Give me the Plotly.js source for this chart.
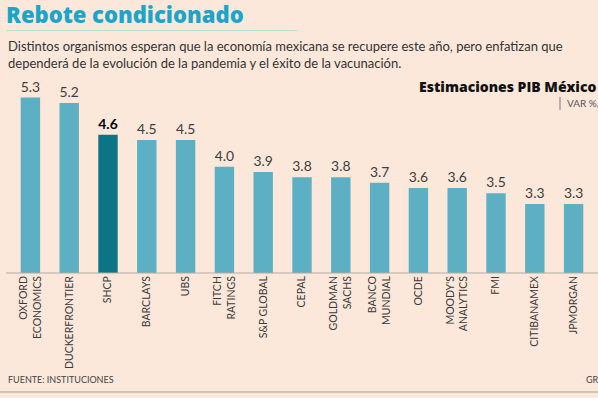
<!DOCTYPE html>
<html>
<head>
<meta charset="utf-8">
<script src="https://cdn.plot.ly/plotly-3.0.1.min.js"></script>
<style>html,body{margin:0;padding:0;background:#fbe8da;overflow:hidden}</style>
</head>
<body>
<div id="chart" style="width:598px;height:398px"></div>
<script>
const categories = ["OXFORD<br>ECONOMICS","DUCKERFRONTIER","SHCP","BARCLAYS","UBS","FITCH<br>RATINGS","S&P GLOBAL","CEPAL","GOLDMAN<br>SACHS","BANCO<br>MUNDIAL","OCDE","MOODY'S<br>ANALYTICS","FMI","CITIBANAMEX","JPMORGAN"];
const values = [5.3, 5.2, 4.6, 4.5, 4.5, 4.0, 3.9, 3.8, 3.8, 3.7, 3.6, 3.6, 3.5, 3.3, 3.3];
const highlight = "SHCP";

const W = 598, H = 398;
const M = {l: 11, r: 5, t: 71, b: 125};
const PW = W - M.l - M.r, PH = H - M.t - M.b;
const px = x => (x - M.l) / PW;
const py = y => (H - M.b - y) / PH;

const isHi = categories.map(c => c === highlight);
const trace = {
  type: 'bar',
  x: categories,
  y: values,
  base: 0,
  marker: {color: isHi.map(h => h ? '#0c7485' : '#5db0c3')},
  width: 0.5,
  text: values.map((v, i) => isHi[i] ? '<b>' + v.toFixed(1) + '</b>' : v.toFixed(1)),
  textposition: 'outside',
  cliponaxis: false,
  textfont: {
    family: 'Lato, sans-serif',
    size: isHi.map(h => h ? 18 : 14),
    color: isHi.map(h => h ? '#000000' : '#3c3c3c')
  },
  hoverinfo: 'skip'
};

const font = 'Lato, sans-serif';
const layout = {
  width: W, height: H,
  margin: M,
  paper_bgcolor: '#fbe8da',
  plot_bgcolor: '#fbe8da',
  showlegend: false,
  bargap: 0.5,
  xaxis: {
    type: 'category',
    tickangle: -90,
    tickfont: {family: font, size: 10.5, color: '#3a3a3a'},
    showline: false, ticks: '', showgrid: false, zeroline: false,
    range: [-0.5, 14.5], fixedrange: true
  },
  yaxis: {
    range: [2, 5.8], visible: false, showgrid: false, zeroline: false, fixedrange: true
  },
  shapes: [
    {type: 'line', xref: 'paper', yref: 'paper', x0: px(6), x1: px(298), y0: py(30.5), y1: py(30.5), line: {color: '#b9ddd9', width: 1}},
    {type: 'line', xref: 'paper', yref: 'paper', x0: px(6), x1: px(598), y0: py(273), y1: py(273), line: {color: '#b3aaa2', width: 1}},
    {type: 'line', xref: 'paper', yref: 'paper', x0: px(0), x1: px(598), y0: py(392), y1: py(392), line: {color: '#a59c95', width: 1}},
    {type: 'line', xref: 'paper', yref: 'paper', x0: px(560), x1: px(560), y0: py(97), y1: py(110), line: {color: '#7a7a7a', width: 1}}
  ],
  annotations: [
    {xref: 'paper', yref: 'paper', x: px(4), y: py(14), xanchor: 'left', yanchor: 'middle', showarrow: false,
     text: 'Rebote condicionado', font: {family: '"Open Sans", sans-serif', size: 22, weight: 800, color: '#1ba5c9'}},
    {xref: 'paper', yref: 'paper', x: px(6), y: py(55), xanchor: 'left', yanchor: 'middle', align: 'left', showarrow: false,
     text: 'Distintos organismos esperan que la economía mexicana se recupere este año, pero enfatizan que<br>dependerá de la evolución de la pandemia y el éxito de la vacunación.',
     font: {family: font, size: 13, color: '#333333'}},
    {xref: 'paper', yref: 'paper', x: px(417), y: py(87), xanchor: 'left', yanchor: 'middle', showarrow: false,
     text: 'Estimaciones PIB México 2021', font: {family: '"Open Sans", sans-serif', size: 14, weight: 800, color: '#111111'}},
    {xref: 'paper', yref: 'paper', x: px(565), y: py(103), xanchor: 'left', yanchor: 'middle', showarrow: false,
     text: 'VAR %, ANUAL', font: {family: font, size: 10, color: '#555555'}},
    {xref: 'paper', yref: 'paper', x: px(6), y: py(379), xanchor: 'left', yanchor: 'middle', showarrow: false,
     text: 'FUENTE: INSTITUCIONES', font: {family: font, size: 9, color: '#444444'}},
    {xref: 'paper', yref: 'paper', x: px(584), y: py(379), xanchor: 'left', yanchor: 'middle', showarrow: false,
     text: 'GRÁFICO EE', font: {family: font, size: 9, color: '#444444'}}
  ]
};

Plotly.newPlot('chart', [trace], layout, {displayModeBar: false, staticPlot: true});
</script>
</body>
</html>
